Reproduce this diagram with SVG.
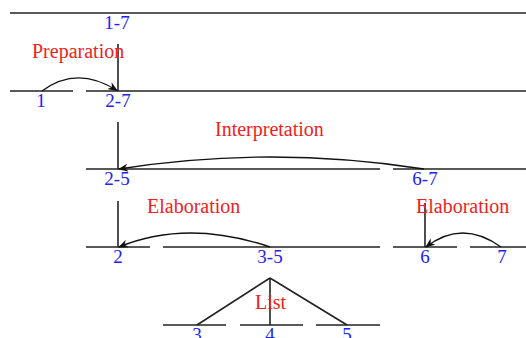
<svg xmlns="http://www.w3.org/2000/svg" width="526" height="338" viewBox="0 0 526 338">
<style>
.ln{stroke:#222;stroke-width:1.6;fill:none}
.arc{stroke:#111;stroke-width:1.4;fill:none;marker-end:url(#ah)}
.n{font-family:"Liberation Serif","Times New Roman",serif;font-size:19px;fill:#2222ee;text-anchor:middle}
.r{font-family:"Liberation Serif","Times New Roman",serif;font-size:20px;fill:#ee2222}
</style>
<defs>
<marker id="ah" markerWidth="10" markerHeight="8" refX="9" refY="4" orient="auto" markerUnits="userSpaceOnUse">
<path d="M0,0 L10,4 L0,8 L3,4 Z" fill="#111"/>
</marker>
</defs>
<rect width="526" height="338" fill="#fff"/>
<g id="connectors">
<line class="ln" x1="10" y1="13" x2="526" y2="13"/>
<line class="ln" x1="10" y1="91" x2="73" y2="91"/>
<line class="ln" x1="86" y1="91" x2="526" y2="91"/>
<line class="ln" x1="118" y1="44" x2="118" y2="91"/>
<line class="ln" x1="86" y1="169" x2="380" y2="169"/>
<line class="ln" x1="393" y1="169" x2="526" y2="169"/>
<line class="ln" x1="118" y1="122" x2="118" y2="169"/>
<line class="ln" x1="86" y1="247" x2="150" y2="247"/>
<line class="ln" x1="163" y1="247" x2="380" y2="247"/>
<line class="ln" x1="393" y1="247" x2="457" y2="247"/>
<line class="ln" x1="470" y1="247" x2="526" y2="247"/>
<line class="ln" x1="118" y1="201" x2="118" y2="247"/>
<line class="ln" x1="425" y1="203" x2="425" y2="247"/>
<line class="ln" x1="163" y1="325" x2="226" y2="325"/>
<line class="ln" x1="240" y1="325" x2="303" y2="325"/>
<line class="ln" x1="316" y1="325" x2="380" y2="325"/>
<line class="ln" x1="270" y1="278" x2="197" y2="325"/>
<line class="ln" x1="270" y1="278" x2="270" y2="325"/>
<line class="ln" x1="270" y1="278" x2="347" y2="325"/>
<path class="arc" d="M42,91 Q77,65 117,90.5"/>
<path class="arc" d="M424,169 Q270,145 119,169"/>
<path class="arc" d="M270,247 Q187,219 119,247"/>
<path class="arc" d="M501,247 Q462,219 426,247"/>
</g>
<g id="n17"><text class="n" x="117" y="29">1-7</text></g>
<g id="n1"><text class="n" x="41" y="107">1</text></g>
<g id="n27"><text class="n" x="118" y="107">2-7</text></g>
<g id="n25"><text class="n" x="117" y="185">2-5</text></g>
<g id="n67"><text class="n" x="425" y="185">6-7</text></g>
<g id="n2"><text class="n" x="118" y="263">2</text></g>
<g id="n35"><text class="n" x="270" y="263">3-5</text></g>
<g id="n6"><text class="n" x="425" y="263">6</text></g>
<g id="n7"><text class="n" x="502" y="263">7</text></g>
<g id="n3"><text class="n" x="197" y="341">3</text></g>
<g id="n4"><text class="n" x="270" y="341">4</text></g>
<g id="n5"><text class="n" x="347" y="341">5</text></g>
<g id="rel-prep"><text class="r" x="32" y="58">Preparation</text></g>
<g id="rel-interp"><text class="r" x="215" y="136">Interpretation</text></g>
<g id="rel-elab1"><text class="r" x="147" y="213">Elaboration</text></g>
<g id="rel-elab2"><text class="r" x="416" y="213">Elaboration</text></g>
<g id="rel-list"><text class="r" x="255" y="309">List</text></g>
</svg>
